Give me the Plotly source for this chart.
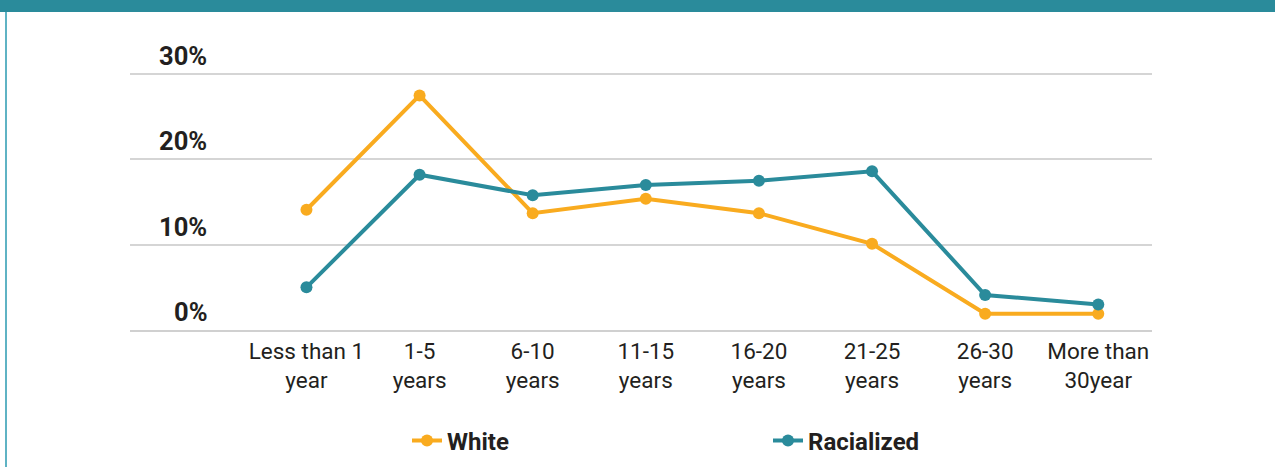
import plotly.graph_objects as go

categories = ["Less than 1<br>year", "1-5<br>years", "6-10<br>years", "11-15<br>years",
              "16-20<br>years", "21-25<br>years", "26-30<br>years", "More than<br>30year"]
white = [14.1, 27.5, 13.7, 15.4, 13.7, 10.1, 1.9, 1.9]
racialized = [5.0, 18.2, 15.8, 17.0, 17.5, 18.6, 4.1, 3.0]
y_ticks = [0, 10, 20, 30]
y_tick_labels = ["0%", "10%", "20%", "30%"]

ORANGE = "#F9AB1F"
TEAL = "#2A8B9B"
TEXT = "#231F20"
FONT = "Roboto, Arial, sans-serif"

L, R, T, B = 130, 123, 72, 137
W, H = 1275, 467
pw, ph = W - L - R, H - T - B

fig = go.Figure()
fig.add_trace(go.Scatter(x=list(range(len(categories))), y=white, name="<b>White</b>", mode="lines+markers",
                         line=dict(color=ORANGE, width=4), marker=dict(size=12, color=ORANGE)))
fig.add_trace(go.Scatter(x=list(range(len(categories))), y=racialized, name="<b>Racialized</b>",
                         mode="lines+markers",
                         line=dict(color=TEAL, width=4), marker=dict(size=12, color=TEAL)))

for v, lab in zip(y_ticks, y_tick_labels):
    fig.add_annotation(x=(209 - L) / pw, xref="paper", y=v, yref="y", text=f"<b>{lab}</b>",
                       showarrow=False, xanchor="right", yanchor="bottom", yshift=1,
                       font=dict(family=FONT, size=25.5, color=TEXT))

# frame decorations
fig.add_shape(type="rect", xref="paper", yref="paper", x0=-L / pw, x1=(W - L) / pw,
              y0=1 + (T - 12) / ph, y1=1 + T / ph, fillcolor=TEAL, line=dict(width=0), layer="below")
fig.add_shape(type="line", xref="paper", yref="paper", x0=(6 - L) / pw, x1=(6 - L) / pw,
              y0=-B / ph, y1=1 + (T - 12) / ph, line=dict(color="#2A9AB0", width=1.5))

fig.update_layout(
    width=W, height=H, margin=dict(l=L, r=R, t=T, b=B, autoexpand=False),
    paper_bgcolor="white", plot_bgcolor="white",
    font=dict(family=FONT, size=22, color=TEXT),
    showlegend=True,
    legend=dict(orientation="h", xref="container", yref="container", x=407 / W, xanchor="left",
                y=1 - 441 / H, yanchor="middle",
                entrywidth=316, entrywidthmode="pixels", font=dict(family=FONT, size=24, color=TEXT),
                itemclick=False),
    xaxis=dict(tickmode="array", tickvals=list(range(len(categories))), ticktext=categories,
               range=[-1.56, 7.475], showgrid=False, zeroline=False, showline=True,
               linecolor="#D0D0D0", linewidth=1.5, ticks="", tickfont=dict(size=22.5, color=TEXT)),
    yaxis=dict(range=[0, 30.25], tickvals=y_ticks, showticklabels=False, showgrid=True,
               gridcolor="#D5D5D5", gridwidth=1.5, zeroline=False, ticks=""),
)
fig.write_html("out.html")
